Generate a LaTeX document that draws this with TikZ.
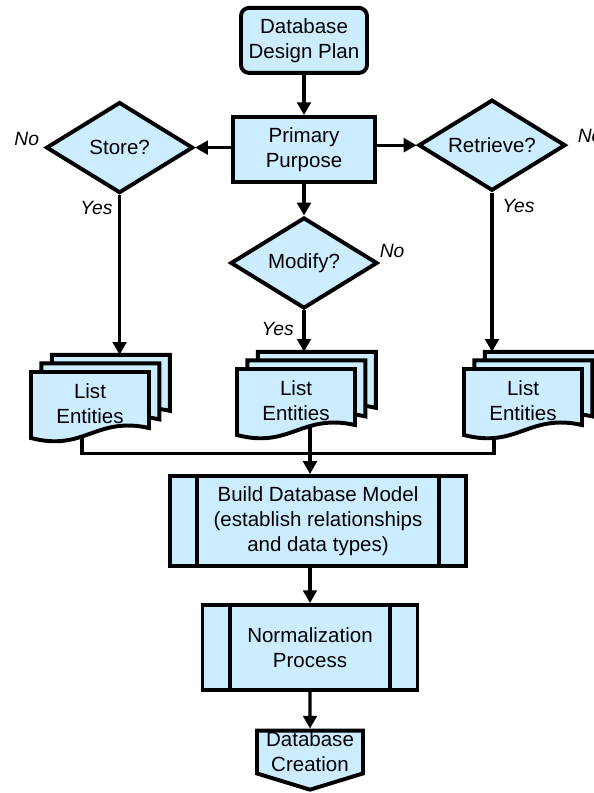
\documentclass[tikz,border=0pt]{standalone}
\usepackage{fontspec}
\setmainfont{Liberation Sans}
\usepackage{tikz}
\usetikzlibrary{positioning,arrows.meta,shapes.geometric,shapes.symbols,calc,backgrounds}
\usepackage{xcolor}
\definecolor{colbox}{HTML}{CCECFF}
% one sheet of a document stack, top-left corner at the origin
\newcommand{\docpage}{(0,0) -- (2.95,0) -- (2.95,-1.4) .. controls (1.62,-1.1) and (1.33,-2.0) .. (0,-1.65) -- cycle}
% #1 name, #2 top-left of the front sheet, #3 text
\newcommand{\docstack}[3]{%
  \foreach \k in {2,1,0} \draw[page, shift={($(#2)+(\k*0.26,\k*0.215)$)}] \docpage;
  \node[pagetext] (#1) at ($(#2)+(1.475,-0.8)$) {#3};
  \coordinate (#1-top) at ($(#2)+(1.475,0.43)$);}

\begin{document}
\begin{tikzpicture}[
    box/.style={draw, line width=2.8pt, fill=colbox, align=center, inner sep=1pt},
    start/.style={box, rounded corners=0.2cm, minimum width=3.15cm, minimum height=1.625cm},
    task/.style={box, minimum width=3.55cm, minimum height=1.625cm},
    choice/.style={box, diamond, aspect=1.6, inner sep=0pt, minimum width=3.675cm, minimum height=2.275cm},
    subproc/.style={box, path picture={
      \draw[line width=2.8pt] ([xshift=0.68cm]path picture bounding box.north west) -- ([xshift=0.68cm]path picture bounding box.south west)
        ([xshift=-0.68cm]path picture bounding box.north east) -- ([xshift=-0.68cm]path picture bounding box.south east);}},
    finish/.style={box, signal, signal to=south, signal pointer angle=146, minimum width=2.65cm, minimum height=1.325cm},
    page/.style={line width=2.8pt, fill=colbox},
    pagetext/.style={align=center, inner sep=0pt, minimum width=2.95cm, minimum height=1.65cm},
    lbl/.style={font=\fontsize{13.7}{16}\selectfont\itshape, inner sep=0pt},
    arr/.style={line width=2.3pt, -{Triangle[length=0.32cm,width=0.34cm]}},
    wire/.style={line width=2.3pt},
    every node/.style={font=\fontsize{14.6}{17.8}\selectfont}]
  \useasboundingbox (0,0) rectangle (14.825,-19.825);

  \node[start] (plan) at (7.6,-1.01) {Database\\Design Plan};
  \node[task] (purp) at (7.6,-3.74) {Primary\\Purpose};
  \node[choice] (store) at (2.99,-3.69) {Store?};
  \node[choice] (retr) at (12.3,-3.63) {Retrieve?};
  \node[choice] (modi) at (7.6,-6.575) {Modify?};

  \node[lbl, above left=0.05cm and 0.12cm of store.west] {No};
  \node[lbl, below left=0.15cm and 0.17cm of store.south] {Yes};
  \node[lbl, above right=0.05cm and 0.25cm of retr.east] {No};
  \node[lbl, below right=0.15cm and 0.25cm of retr.south] {Yes};
  \node[lbl, above right=0.12cm and 0cm of modi.east] {No};
  \node[lbl, below left=0.28cm and 0.25cm of modi.south] {Yes};

  \docstack{lsS}{0.775,-9.3}{List\\Entities}
  \docstack{lsM}{5.925,-9.225}{List\\Entities}
  \docstack{lsR}{11.6,-9.225}{List\\Entities}

  \node[subproc, minimum width=7.4cm, minimum height=2.25cm] (model) at (7.95,-13.025)
    {Build Database Model\\(establish relationships\\and data types)};
  \node[subproc, minimum width=5.375cm, minimum height=2.125cm] (norm) at (7.75,-16.19) {Normalization\\Process};
  \node[finish] (create) at (7.75,-18.8) {Database\\Creation};

  \draw[arr] (plan) -- (purp);
  \draw[arr] (purp.west |- store) -- (store.east);
  \draw[arr] (purp.east |- retr) -- (retr.west);
  \draw[arr] (purp) -- (modi);
  \draw[arr] (store.south) -- (store.south |- lsS-top);
  \draw[arr] (modi.south) -- (modi.south |- lsM-top);
  \draw[arr] (retr.south) -- (retr.south |- lsR-top);

  % the three lists meet above the model box
  \coordinate (join) at (7.75,-11.34);
  \begin{scope}[on background layer]
    \draw[wire] ([xshift=-0.2cm]lsS.center) |- (join);
    \draw[wire] ([xshift=-0.725cm]lsR.center) |- (join);
    \draw[wire] (lsM.center -| join) -- (join);
  \end{scope}
  \draw[arr] (join) -- (join |- model.north);
  \draw[arr] (model.south -| norm) -- (norm);
  \draw[arr] (norm) -- (create);
\end{tikzpicture}
\end{document}
